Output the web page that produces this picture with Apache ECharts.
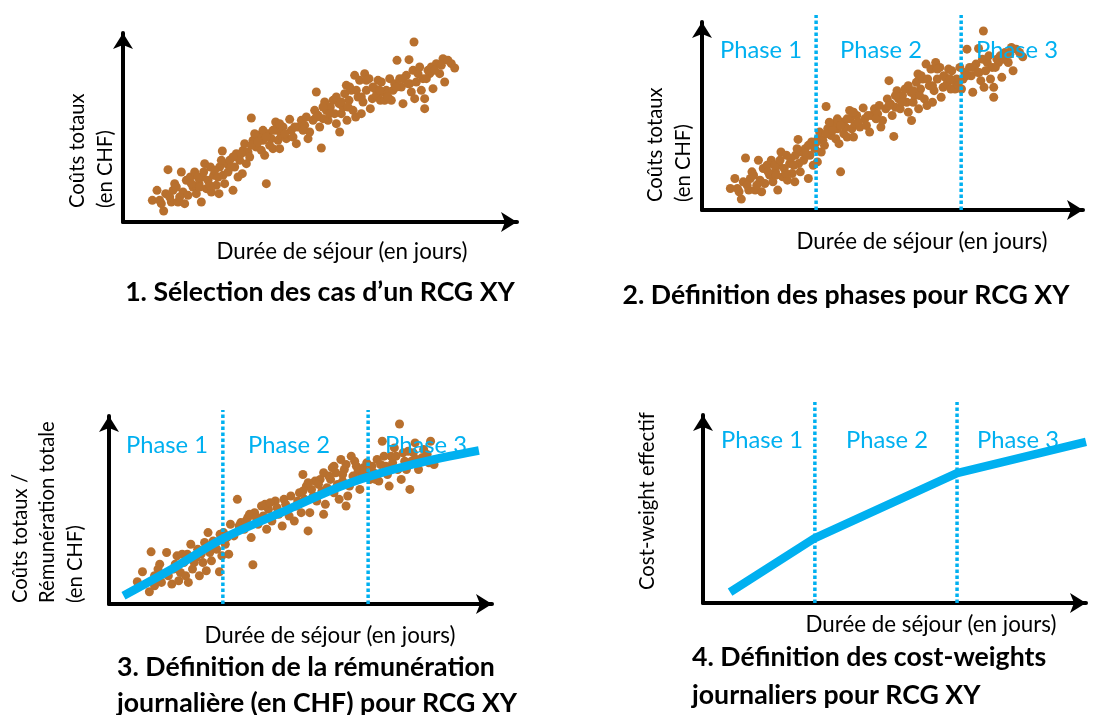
<!DOCTYPE html>
<html><head><meta charset="utf-8">
<script src="https://cdn.jsdelivr.net/npm/echarts@6/dist/echarts.min.js"></script>
<style>html,body{margin:0;padding:0;background:#fff}#c{width:1094px;height:715px}</style>
</head><body><div id="c"></div>
<script>
// ---------- DATA ----------
// Cost cloud (length of stay vs total cost), used in panels 1 and 2
const costCloud = [
[88,65],[102,95],[122,33],[115,55],[128,85],[135,157],[145,60],[150,95],[155,115],[165,60],
[175,150],[180,90],[185,55],[190,125],[195,80],[202,135],[210,105],[215,150],[220,85],[228,115],
[235,60],[238,135],[245,175],[250,100],[255,125],[262,165],[265,90],[272,140],[280,110],[288,85],
[290,165],[298,213],[300,140],[305,115],[310,175],[315,150],[320,185],[330,95],[335,165],[340,205],
[345,135],[350,185],[358,145],[360,215],[365,235],[370,175],[375,210],[380,195],[385,312],[390,245],
[400,225],[410,260],[415,215],[420,245],[425,200],[430,115],[435,265],[440,230],[445,250],[450,220],
[458,300],[460,275],[465,245],[470,220],[475,260],[480,285],[490,250],[500,308],[505,275],[510,255],
[520,235],[525,285],[535,305],[545,290],[555,250],[560,270],[570,305],[575,335],[580,390],[585,320],
[590,285],[595,222],[600,310],[605,360],[610,335],[615,305],[622,345],[630,365],[635,325],[640,295],
[648,355],[650,270],[655,325],[660,345],[665,385],[670,410],[672,305],[678,365],[685,395],[690,335],
[695,440],[698,315],[705,375],[710,425],[715,325],[720,360],[725,445],[730,395],[738,430],[742,340],
[748,370],[755,400],[760,380],[765,425],[772,365],[775,420],[780,390],[785,365],[790,395],[800,430],
[805,365],[810,395],[815,415],[822,485],[830,430],[835,405],[840,355],[850,440],[858,487],[860,415],
[865,390],[870,455],[873,540],[875,370],[885,445],[895,395],[900,430],[905,340],[905,370],[915,455],
[920,445],[925,465],[930,400],[940,475],[950,445],[960,490],[965,420],[975,485],[985,475],[995,462],
[110,65],[140,75],[160,105],[170,75],[205,115],[225,135],[230,105],[242,150],[260,110],[275,155],
[285,135],[295,185],[325,165],[330,195],[355,205],[385,230],[395,265],[405,240],[420,275],[430,255],
[450,275],[470,295],[485,265],[515,285],[540,275],[550,315],[580,315],[600,345],[620,325],[640,375],
[655,360],[675,345],[680,405],[700,395],[715,375],[730,425],[750,405],[770,395],[795,375],[820,405],
[840,430],[855,415],[880,420],[890,465],[910,430],[935,455],[955,470]
];
// Cost / remuneration cloud for panel 3
const remunCloud = [
[82,67],[97,97],[117,37],[122,157],[132,85],[147,120],[152,65],[167,155],[172,85],[182,60],
[187,105],[197,145],[202,70],[207,95],[217,125],[227,150],[230,65],[237,180],[242,105],[252,140],
[257,165],[262,85],[272,125],[277,185],[282,100],[287,215],[292,155],[297,130],[307,175],[312,165],
[320,97],[322,210],[327,145],[337,180],[347,150],[352,240],[362,205],[372,315],[382,245],[392,225],
[402,260],[412,200],[417,118],[422,275],[432,240],[442,295],[447,265],[457,225],[462,285],[472,250],
[482,310],[492,270],[502,235],[512,300],[522,265],[537,250],[542,295],[552,335],[557,275],[562,390],
[567,315],[572,355],[577,220],[582,275],[587,345],[597,370],[602,310],[612,375],[617,340],[622,270],
[627,300],[632,350],[642,375],[647,410],[652,335],[657,395],[667,315],[672,435],[677,370],[682,405],
[687,295],[692,325],[697,355],[702,445],[712,430],[722,400],[727,345],[737,410],[747,425],[757,375],
[767,395],[777,435],[782,370],[792,490],[802,415],[812,355],[817,445],[827,470],[837,405],[842,542],
[847,375],[857,430],[867,460],[872,345],[877,430],[887,485],[897,405],[907,440],[922,450],[932,490],
[942,420],
[132,55],[142,105],[160,90],[192,120],[212,150],[222,85],[247,125],[267,150],[282,170],[302,190],
[332,215],[342,200],[377,235],[397,250],[407,270],[427,260],[452,300],[467,305],[487,290],[507,315],
[527,325],[547,310],[562,340],[577,365],[592,325],[607,360],[622,395],[637,385],[652,415],[662,360],
[677,390],[687,420],[707,385],[717,415],[732,385],[742,400],[762,415],[772,375],[787,420],[797,445],
[807,390],[822,425],[832,445],[852,455],[862,405],[882,455],[892,435],[912,465],[927,425]
];
// Fitted daily remuneration curve (panel 3)
const remunCurve = [[42,25],[190,110],[332,198],[520,285],[692,362],[880,420],[1072,462]];
// Effective cost-weight line (panel 4)
const costWeightLine = [[84,33],[347,196],[788,392],[1188,486]];
// Phase boundaries (x values) per panel
const phaseBounds2 = [354, 804];
const phaseBounds3 = [330, 751];
const phaseBounds4 = [347, 788];
const phaseLabels = ['Phase 1', 'Phase 2', 'Phase 3'];
// Texts
const xName = 'Durée de séjour (en jours)';
const yName1 = ['Coûts totaux', '(en CHF)'];
const yName3 = ['Coûts totaux /', 'Rémunération totale', '(en CHF)'];
const yName4 = ['Cost-weight effectif'];
const title1 = ['1. Sélection des cas d’un RCG XY'];
const title2 = ['2. Définition des phases pour RCG XY'];
const title3 = ['3. Définition de la rémunération', 'journalière (en CHF) pour RCG XY'];
const title4 = ['4. Définition des cost-weights', 'journaliers pour RCG XY'];

// ---------- STYLE / LAYOUT ----------
const FONT = 'Lato';
const BLUE = '#00b0f0';
const BROWN = '#b8702e';
const ctx = document.createElement('canvas').getContext('2d');
function fit(text, weight, target) {
  ctx.font = weight + ' 100px ' + FONT;
  return 100 * target / ctx.measureText(text).width;
}
const axisSize = fit(xName, 'normal', 251);
const ySize = fit(yName3[1], 'normal', 182);
const phaseSize = fit('Phase 1', 'normal', 82);
const titleSize = fit(title2[0], 'bold', 447);

const grids = [
  {left: 123, top: 33, width: 394, height: 189, xmax: 1182, ymax: 567},
  {left: 702, top: 22, width: 381, height: 188, xmax: 1182, ymax: 567},
  {left: 109, top: 416, width: 383, height: 188, xmax: 1110, ymax: 566},
  {left: 703, top: 415, width: 383, height: 188, xmax: 1188, ymax: 567}
];
function axis(max, i) {
  return {
    type: 'value', gridIndex: i, min: 0, max: max,
    axisLine: {show: true, onZero: false, symbol: ['none', 'arrow'], symbolSize: [15, 16],
      lineStyle: {color: '#000', width: 4}},
    axisTick: {show: false}, axisLabel: {show: false}, splitLine: {show: false}
  };
}
const series = [];
function scatter(data, i) {
  series.push({type: 'scatter', xAxisIndex: i, yAxisIndex: i, data: data, symbolSize: 9,
    itemStyle: {color: BROWN, opacity: 1}, silent: true, z: 2});
}
function dotted(bounds, top, i) {
  bounds.forEach(function (b) {
    series.push({type: 'line', xAxisIndex: i, yAxisIndex: i, data: [[b, 0], [b, top]],
      showSymbol: false, clip: false, silent: true, z: 3,
      lineStyle: {color: BLUE, width: 3.5, type: [3.5, 2.5], cap: 'butt'}});
  });
}
function thick(data, i, smooth) {
  series.push({type: 'line', xAxisIndex: i, yAxisIndex: i, data: data, smooth: smooth,
    showSymbol: false, clip: false, silent: true, z: 4,
    lineStyle: {color: BLUE, width: 8.5, cap: 'butt', join: 'round'}});
}
scatter(costCloud, 0);
scatter(costCloud, 1);
dotted(phaseBounds2, 588, 1);
scatter(remunCloud, 2);
dotted(phaseBounds3, 584, 2);
thick(remunCurve, 2, 0.35);
dotted(phaseBounds4, 606, 3);
thick(costWeightLine, 3, false);

const graphics = [];
function txt(text, x, y, opt) {
  opt = opt || {};
  graphics.push({type: 'text', x: x, y: y, rotation: opt.rot || 0, z: 100, silent: true,
    style: {text: text, fill: opt.color || '#000',
      font: (opt.weight || 'normal') + ' ' + (opt.size || axisSize).toFixed(2) + 'px ' + FONT,
      textAlign: opt.align || 'center', textVerticalAlign: 'middle'}});
}
const R = Math.PI / 2;
// panel 1
txt(yName1[0], 77, 208, {rot: R, align: 'left', size: ySize});
txt(yName1[1], 105, 208, {rot: R, align: 'left', size: ySize});
txt(xName, 342, 252);
txt(title1[0], 320, 292, {weight: 'bold', size: titleSize});
// panel 2
txt(yName1[0], 655, 202, {rot: R, align: 'left', size: ySize});
txt(yName1[1], 683, 202, {rot: R, align: 'left', size: ySize});
txt(xName, 922, 242);
txt(title2[0], 846, 295, {weight: 'bold', size: titleSize});
[761, 881, 1017].forEach(function (x, k) { txt(phaseLabels[k], x, 50, {color: BLUE, size: phaseSize}); });
// panel 3
[20, 47, 75].forEach(function (x, k) { txt(yName3[k], x, 603, {rot: R, align: 'left', size: ySize}); });
txt(xName, 330, 636);
txt(title3[0], 117, 667, {weight: 'bold', size: titleSize, align: 'left'});
txt(title3[1], 117, 703, {weight: 'bold', size: titleSize, align: 'left'});
[167, 289, 426].forEach(function (x, k) { txt(phaseLabels[k], x, 445, {color: BLUE, size: phaseSize}); });
// panel 4
txt(yName4[0], 647, 590, {rot: R, align: 'left', size: ySize});
txt(xName, 931, 625);
txt(title4[0], 692, 657, {weight: 'bold', size: titleSize, align: 'left'});
txt(title4[1], 692, 695, {weight: 'bold', size: titleSize, align: 'left'});
[762, 887, 1018].forEach(function (x, k) { txt(phaseLabels[k], x, 440, {color: BLUE, size: phaseSize}); });

const chart = echarts.init(document.getElementById('c'), null, {renderer: 'canvas'});
chart.setOption({
  animation: false,
  backgroundColor: '#fff',
  grid: grids.map(function (g) { return {left: g.left, top: g.top, width: g.width, height: g.height, outerBoundsMode: 'none'}; }),
  xAxis: grids.map(function (g, i) { return axis(g.xmax, i); }),
  yAxis: grids.map(function (g, i) { return axis(g.ymax, i); }),
  series: series,
  graphic: {elements: graphics}
});
</script>
</body></html>
